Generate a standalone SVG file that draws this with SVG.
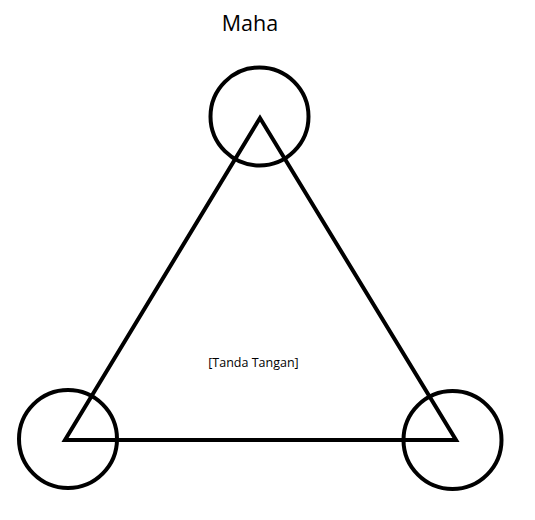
<svg xmlns="http://www.w3.org/2000/svg" width="535" height="520" viewBox="0 0 535 520">
<style>
.s{fill:none;stroke:#000;stroke-width:4}
.t{font-family:"Open Sans","Liberation Sans",sans-serif;fill:#000}
</style>
<rect width="535" height="520" fill="#fff"/>
<g id="connectors">
<polygon class="s" points="260,118 65,440 456,440" stroke-linejoin="miter"/>
</g>
<g id="node-top"><circle class="s" cx="259.5" cy="116.5" r="49"/></g>
<g id="node-left"><circle class="s" cx="68" cy="439" r="49"/></g>
<g id="node-right"><circle class="s" cx="452.5" cy="440" r="49"/></g>
<g id="title"><text class="t" x="250" y="31" font-size="21.5" text-anchor="middle">Maha</text></g>
<g id="label"><text class="t" x="253.5" y="367" font-size="12.5" text-anchor="middle">[Tanda Tangan]</text></g>
</svg>
